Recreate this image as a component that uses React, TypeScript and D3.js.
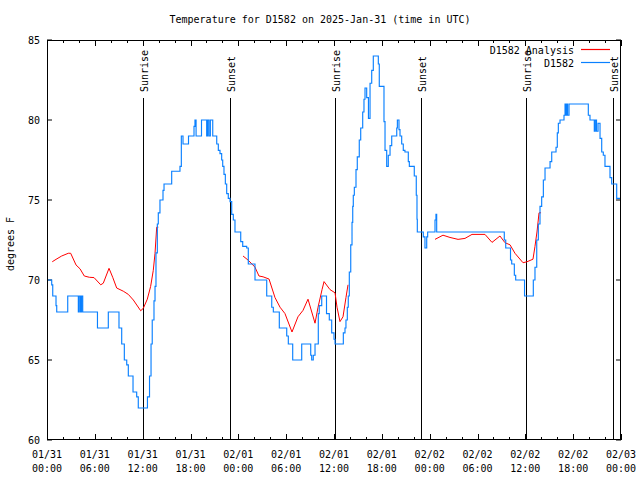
import React from "react";
import * as d3 from "d3";

const TITLE = "Temperature for D1582 on 2025-Jan-31 (time in UTC)";
const Y_LABEL = "degrees F";
const START_UTC = Date.UTC(2025, 0, 31, 0, 0);
const SPAN_HOURS = 72;
const Y_TICKS = [60, 65, 70, 75, 80, 85];

// Station readings [hours since 01/31 00:00 UTC, °F] (step changes)
const stationReadings: [number, number][] = [
  [0, 70.0], [0.59, 69.7], [0.72, 69.0], [1.13, 68.4], [1.22, 68.0], [2.6, 69.0], [3.93, 68.0], [4.04, 69.0],
  [4.2, 68.0], [4.33, 69.0], [4.48, 68.0], [6.33, 67.0], [7.69, 68.0], [9.03, 67.0], [9.37, 66.0], [9.7, 65.0],
  [10.0, 64.7], [10.2, 64.0], [10.79, 63.0], [11.25, 62.7], [11.45, 62.0], [12.6, 62.7], [12.86, 64.0], [13.05, 66.0],
  [13.2, 67.5], [13.42, 68.7], [13.55, 69.6], [13.67, 71.7], [13.84, 73.5], [13.96, 74.2], [14.17, 75.0], [14.55, 75.6],
  [14.68, 76.0], [15.64, 76.8], [16.68, 77.1], [16.85, 79.0], [17.06, 78.5], [17.75, 79.0], [18.44, 79.6], [18.56, 80.0],
  [18.7, 79.0], [19.38, 80.0], [20.03, 79.0], [20.16, 80.0], [20.32, 79.0], [20.49, 80.0], [20.79, 79.0], [21.29, 78.5],
  [21.49, 78.1], [21.7, 77.9], [21.91, 77.5], [22.04, 77.1], [22.2, 76.6], [22.37, 76.0], [22.54, 75.4], [22.74, 75.1],
  [22.96, 74.9], [23.17, 74.1], [23.37, 73.75], [23.58, 73.0], [24.3, 72.4], [24.55, 72.1], [25.05, 72.0], [25.25, 71.0],
  [26.09, 70.0], [27.56, 69.0], [28.19, 68.3], [28.39, 68.0], [29.14, 67.0], [30.07, 66.5], [30.27, 66.0], [30.82, 65.0],
  [31.95, 66.0], [33.08, 65.3], [33.2, 65.0], [33.4, 65.3], [33.62, 66.0], [34.03, 67.9], [34.15, 68.4], [34.46, 69.0],
  [35.06, 67.9], [35.41, 67.5], [35.71, 66.7], [36.0, 66.3], [36.13, 66.0], [37.17, 66.7], [37.38, 67.0], [37.5, 67.5],
  [37.67, 68.3], [37.79, 69.0], [37.92, 70.5], [38.1, 72.2], [38.26, 73.6], [38.35, 74.6], [38.42, 75.3], [38.55, 75.8],
  [38.76, 76.9], [38.92, 77.7], [39.17, 78.75], [39.35, 79.5], [39.6, 80.5], [39.76, 81.3], [39.89, 82.0], [40.1, 81.4],
  [40.32, 80.1], [40.52, 82.3], [40.73, 83.1], [40.93, 84.0], [41.56, 83.5], [41.68, 82.1], [42.27, 79.9], [42.4, 78.1],
  [42.61, 77.1], [42.81, 77.8], [43.03, 78.4], [43.24, 79.0], [43.87, 79.5], [43.95, 80.0], [44.15, 79.4], [44.28, 79.0],
  [44.49, 78.5], [44.69, 78.1], [44.9, 78.0], [45.32, 77.4], [45.45, 77.1], [46.07, 76.5], [46.32, 75.3], [46.41, 73.8],
  [46.45, 73.0], [47.2, 72.7], [47.41, 72.0], [47.63, 72.7], [47.75, 73.0], [48.67, 73.75], [48.79, 74.1], [48.88, 73.0],
  [57.36, 72.5], [57.54, 72.0], [58.14, 71.25], [58.29, 71.0], [58.62, 70.3], [58.79, 70.0], [59.9, 69.0], [61.0, 70.0],
  [61.21, 70.8], [61.43, 72.5], [61.63, 73.5], [61.84, 74.6], [62.05, 75.2], [62.26, 76.25], [62.47, 77.0], [63.1, 77.4],
  [63.31, 78.0], [63.85, 78.3], [64.01, 79.2], [64.14, 79.8], [64.35, 80.0], [64.85, 80.3], [64.98, 81.0], [65.1, 80.3],
  [65.19, 81.0], [65.3, 80.3], [65.48, 81.0], [67.9, 80.3], [68.11, 80.0], [68.65, 79.3], [68.78, 80.0], [68.93, 79.3],
  [69.12, 79.8], [69.37, 78.85], [69.58, 78.0], [69.78, 77.8], [69.99, 77.1], [70.62, 76.4], [70.83, 76.0], [71.46, 75.1],
  [72, 75.1],
];

// Analysis series, three night-time segments
const analysisNight1: [number, number][] = [
  [0.66, 71.14], [1.13, 71.29], [1.84, 71.5], [2.67, 71.67], [2.97, 71.67], [3.64, 70.94], [4.14, 70.7], [4.68, 70.25],
  [5.31, 70.17], [5.9, 70.15], [6.74, 69.7], [7.06, 69.8], [7.78, 70.73], [8.24, 70.17], [8.74, 69.5], [9.57, 69.3],
  [10.2, 69.1], [10.83, 68.75], [11.75, 68.08], [12.08, 68.23], [12.58, 68.8], [13.0, 69.6], [13.33, 70.6], [13.55, 71.67],
  [13.76, 73.3], [13.96, 73.3],
];
const analysisNight2: [number, number][] = [
  [24.59, 71.5], [25.21, 71.25], [25.71, 71.0], [26.09, 70.8], [26.59, 70.25], [27.1, 70.2], [27.85, 70.06], [28.6, 68.9],
  [29.23, 68.3], [29.85, 67.9], [30.73, 66.75], [31.48, 67.7], [32.11, 68.1], [32.74, 68.8], [33.62, 67.3], [34.0, 68.3],
  [34.5, 69.4], [34.75, 69.9], [35.5, 69.4], [36.13, 69.2], [36.38, 68.3], [36.75, 67.4], [37.13, 67.7], [37.5, 68.9],
  [37.76, 69.7],
];
const analysisNight3: [number, number][] = [
  [48.67, 72.54], [49.67, 72.8], [50.55, 72.66], [51.56, 72.54], [52.43, 72.6], [53.31, 72.85], [54.94, 72.85],
  [55.82, 72.35], [56.82, 72.75], [57.45, 72.33], [58.08, 72.2], [58.7, 71.67], [59.71, 71.08], [60.21, 71.14],
  [60.96, 71.3], [61.21, 72.1], [61.46, 73.0], [61.72, 74.2], [61.97, 74.2],
];

const sunEventHours = [12.1, 22.9, 36.13, 46.9, 60.08, 71.0];
const sunEventLabels = ["Sunrise", "Sunset", "Sunrise", "Sunset", "Sunrise", "Sunset"];

const seriesNames = ["D1582 Analysis", "D1582"];
const seriesColors = ["#ff0000", "#0a80ff"];

const FONT = "'DejaVu Sans Mono', 'Liberation Mono', monospace";

export default function App() {
  const left = 47, right = 621, top = 40, bottom = 440;
  const toDate = (h: number) => new Date(START_UTC + h * 3600000);
  const x = d3.scaleUtc().domain([toDate(0), toDate(SPAN_HOURS)]).range([left, right]);
  const y = d3.scaleLinear().domain([60, 85]).range([bottom, top]);

  const stepLine = d3
    .line<[number, number]>()
    .x((d) => x(toDate(d[0])))
    .y((d) => y(d[1]))
    .curve(d3.curveStepAfter);
  const smoothLine = d3
    .line<[number, number]>()
    .x((d) => x(toDate(d[0])))
    .y((d) => y(d[1]));

  const minorTicks = x.ticks(d3.utcHour.every(2)!);
  const majorTicks = x.ticks(d3.utcHour.every(6)!);
  const fmtDate = d3.utcFormat("%m/%d");
  const fmtTime = d3.utcFormat("%H:%M");

  return (
    <svg width={640} height={480} style={{ display: "block", position: "absolute", left: 0, top: 0, background: "#fff" }}>
      <rect x={0} y={0} width={640} height={480} fill="#fff" />
      <text x={320} y={23} textAnchor="middle" fontFamily={FONT} fontSize={10} fill="#000">
        {TITLE}
      </text>
      <text
        transform={`translate(14,244) rotate(-90)`}
        textAnchor="middle"
        fontFamily={FONT}
        fontSize={10}
        fill="#000"
      >
        {Y_LABEL}
      </text>

      {/* y ticks */}
      {Y_TICKS.map((v) => (
        <g key={"y" + v}>
          <line x1={left} x2={left + 5} y1={y(v)} y2={y(v)} stroke="#000" />
          <line x1={right} x2={right - 5} y1={y(v)} y2={y(v)} stroke="#000" />
          <text x={40} y={y(v) + 4} textAnchor="end" fontFamily={FONT} fontSize={10} fill="#000">
            {v}
          </text>
        </g>
      ))}

      {/* x ticks */}
      {minorTicks.map((t) => {
        const isMajor = t.getUTCHours() % 6 === 0;
        const len = isMajor ? 6 : 3;
        const px = Math.round(x(t)) + 0.5;
        return (
          <g key={"xt" + t.getTime()}>
            <line x1={px} x2={px} y1={bottom} y2={bottom - len} stroke="#000" />
            <line x1={px} x2={px} y1={top} y2={top + len} stroke="#000" />
          </g>
        );
      })}
      {majorTicks.map((t) => (
        <text key={"xl" + t.getTime()} fontFamily={FONT} fontSize={10} fill="#000" textAnchor="middle">
          <tspan x={x(t)} y={458}>{fmtDate(t)}</tspan>
          <tspan x={x(t)} y={472}>{fmtTime(t)}</tspan>
        </text>
      ))}

      {/* sunrise / sunset markers */}
      {sunEventHours.map((h, i) => {
        const px = Math.round(x(toDate(h))) + 0.5;
        return (
          <g key={"sun" + i}>
            <line x1={px} x2={px} y1={98} y2={bottom} stroke="#000" strokeWidth={1} />
            <text
              transform={`translate(${px + 4},92) rotate(-90)`}
              textAnchor="start"
              fontFamily={FONT}
              fontSize={10}
              fill="#000"
            >
              {sunEventLabels[i]}
            </text>
          </g>
        );
      })}

      {/* data */}
      {[analysisNight1, analysisNight2, analysisNight3].map((seg, i) => (
        <path key={"an" + i} d={smoothLine(seg) || ""} fill="none" stroke={seriesColors[0]} strokeWidth={1} />
      ))}
      <path d={stepLine(stationReadings) || ""} fill="none" stroke={seriesColors[1]} strokeWidth={1.15} />

      {/* frame */}
      <rect x={left + 0.5} y={top + 0.5} width={right - left - 1} height={bottom - top - 1} fill="none" stroke="#000" />

      {/* legend */}
      {seriesNames.map((name, i) => (
        <g key={"lg" + i}>
          <text x={574} y={54 + i * 13} textAnchor="end" fontFamily={FONT} fontSize={10} fill="#000">
            {name}
          </text>
          <line x1={581} x2={610} y1={49.5 + i * 13} y2={49.5 + i * 13} stroke={seriesColors[i]} strokeWidth={1.2} />
        </g>
      ))}
    </svg>
  );
}
